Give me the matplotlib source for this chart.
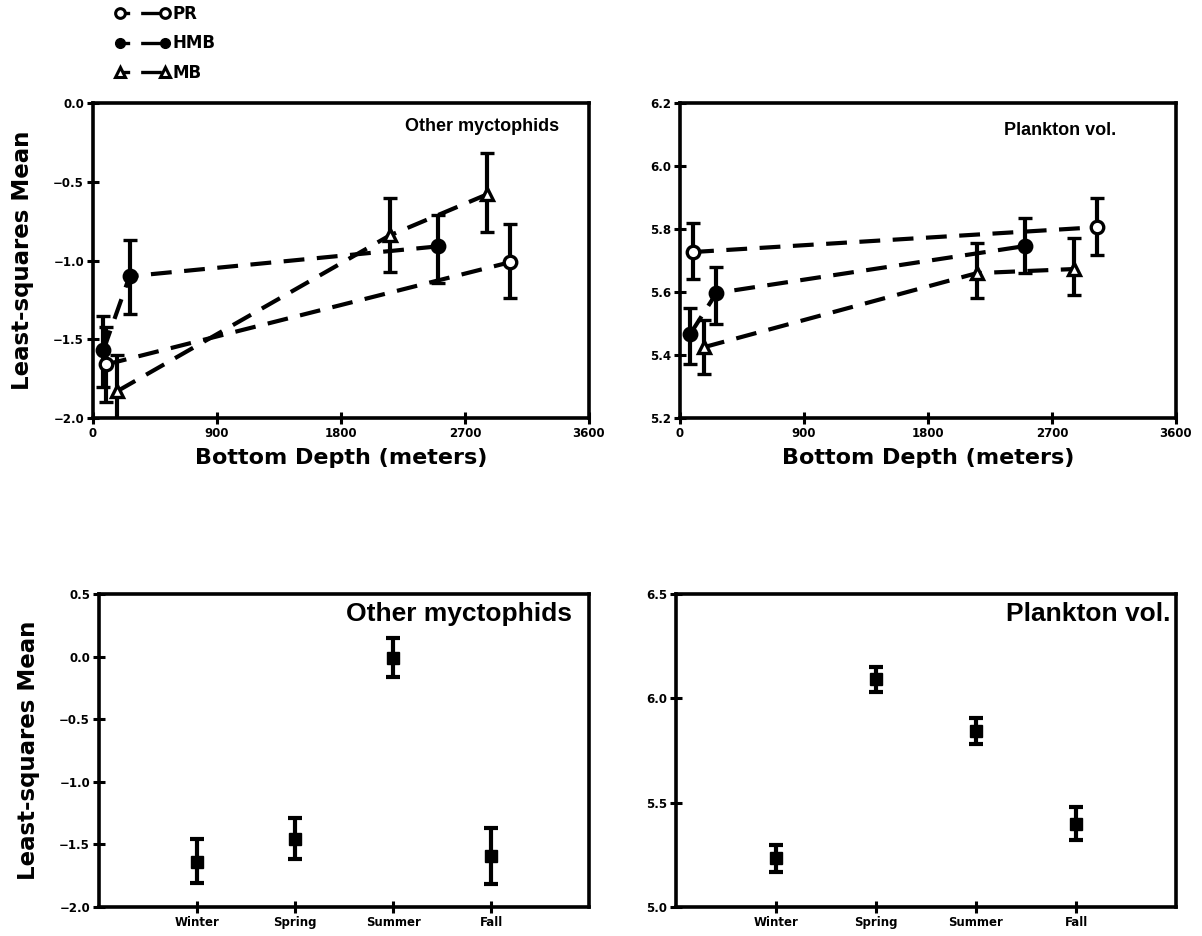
#!/usr/bin/env python3
"""plot.py: least-squares means by bottom depth and by season"""

import matplotlib

matplotlib.use("Agg")
import matplotlib.pyplot as plt
import numpy as np
from matplotlib.lines import Line2D

plt.rcParams["font.family"] = ["DejaVu Sans"]
plt.rcParams["font.weight"] = "bold"

NARROW = ["Liberation Sans Narrow", "Liberation Sans", "DejaVu Sans"]

# depth panels: station groups, bottom depth (m)
pr_depth = [95, 3030]
hmb_depth = [75, 265, 2505]
mb_depth = [175, 2155, 2860]

# Other myctophids: mean, lower, upper
myc_pr = [-1.66, -1.01]
myc_pr_lo = [-1.90, -1.24]
myc_pr_hi = [-1.42, -0.77]
myc_hmb = [-1.57, -1.10, -0.91]
myc_hmb_lo = [-1.80, -1.34, -1.14]
myc_hmb_hi = [-1.35, -0.87, -0.71]
myc_mb = [-1.83, -0.84, -0.58]
myc_mb_lo = [-2.08, -1.07, -0.82]
myc_mb_hi = [-1.60, -0.60, -0.32]

# Plankton vol.: mean, lower, upper
plk_pr = [5.727, 5.806]
plk_pr_lo = [5.64, 5.717]
plk_pr_hi = [5.82, 5.90]
plk_hmb = [5.467, 5.597, 5.746]
plk_hmb_lo = [5.37, 5.50, 5.66]
plk_hmb_hi = [5.55, 5.68, 5.835]
plk_mb = [5.425, 5.66, 5.673]
plk_mb_lo = [5.34, 5.58, 5.59]
plk_mb_hi = [5.51, 5.756, 5.77]

# season panels
seasons = ["Winter", "Spring", "Summer", "Fall"]
myc_season = [-1.64, -1.46, -0.01, -1.59]
myc_season_lo = [-1.81, -1.62, -0.16, -1.82]
myc_season_hi = [-1.46, -1.29, 0.15, -1.37]
plk_season = [5.235, 6.092, 5.843, 5.40]
plk_season_lo = [5.17, 6.03, 5.78, 5.32]
plk_season_hi = [5.297, 6.15, 5.906, 5.48]

depth_ticks = [0, 900, 1800, 2700, 3600]

LW = 2.6


def yerr(mean, lo, hi):
    """yerr: asymmetric error array"""
    m = np.asarray(mean)
    return np.vstack([m - np.asarray(lo), np.asarray(hi) - m])


def style_axes(ax):
    """style_axes: heavy frame, crossing ticks"""
    for s in ax.spines.values():
        s.set_linewidth(LW)
    ax.tick_params(direction="inout", length=9, width=2.2, labelsize=8.5, pad=2)
    for lab in ax.get_xticklabels() + ax.get_yticklabels():
        lab.set_fontweight("heavy")


def depth_panel(ax, series, title, ylim, yticks, tx, ty):
    """depth_panel: three station groups with dashed links"""
    for x, m, lo, hi, marker, face in series:
        ax.errorbar(
            x, m, yerr=yerr(m, lo, hi), fmt="--", color="black", lw=3.0,
            dashes=(5, 3), marker=marker, ms=9, mfc=face, mec="black", mew=2.4,
            ecolor="black", elinewidth=3.0, capsize=5, capthick=3.0, clip_on=True,
        )
    ax.set_xlim(0, 3600)
    ax.set_ylim(*ylim)
    ax.set_xticks(depth_ticks)
    ax.set_yticks(yticks)
    ax.set_xlabel("Bottom Depth (meters)", fontsize=16, fontweight="heavy", labelpad=6)
    ax.text(tx, ty, title, transform=ax.transAxes, ha="right", va="center",
            fontsize=13, fontweight="bold", family=NARROW)
    style_axes(ax)


def season_panel(ax, m, lo, hi, title, ylim, yticks, tx):
    """season_panel: square markers by season"""
    x = np.arange(1, len(seasons) + 1)
    ax.errorbar(
        x, m, yerr=yerr(m, lo, hi), fmt="s", color="black", ms=9,
        ecolor="black", elinewidth=3.0, capsize=5, capthick=3.0,
    )
    ax.set_xlim(0, 5)
    ax.set_ylim(*ylim)
    ax.set_xticks(x)
    ax.set_xticklabels(seasons)
    ax.set_yticks(yticks)
    ax.text(tx, 0.935, title, transform=ax.transAxes, ha="right", va="center",
            fontsize=19, fontweight="bold", family=NARROW)
    style_axes(ax)


fig = plt.figure(figsize=(12.02, 9.36), dpi=100)
ax1 = fig.add_axes([0.0774, 0.5534, 0.4126, 0.3365])
ax2 = fig.add_axes([0.5657, 0.5534, 0.4126, 0.3365])
ax3 = fig.add_axes([0.0824, 0.0310, 0.4077, 0.3344])
ax4 = fig.add_axes([0.5624, 0.0310, 0.4160, 0.3344])

depth_panel(
    ax1,
    [
        (pr_depth, myc_pr, myc_pr_lo, myc_pr_hi, "o", "white"),
        (hmb_depth, myc_hmb, myc_hmb_lo, myc_hmb_hi, "o", "black"),
        (mb_depth, myc_mb, myc_mb_lo, myc_mb_hi, "^", "white"),
    ],
    "Other myctophids", (-2.0, 0.0), [-2.0, -1.5, -1.0, -0.5, 0.0], 0.94, 0.924,
)
ax1.set_ylabel("Least-squares Mean", fontsize=16.5, fontweight="heavy", labelpad=14)

depth_panel(
    ax2,
    [
        (pr_depth, plk_pr, plk_pr_lo, plk_pr_hi, "o", "white"),
        (hmb_depth, plk_hmb, plk_hmb_lo, plk_hmb_hi, "o", "black"),
        (mb_depth, plk_mb, plk_mb_lo, plk_mb_hi, "^", "white"),
    ],
    "Plankton vol.", (5.2, 6.2), [5.2, 5.4, 5.6, 5.8, 6.0, 6.2], 0.88, 0.912,
)

season_panel(ax3, myc_season, myc_season_lo, myc_season_hi, "Other myctophids",
             (-2.0, 0.5), [-2.0, -1.5, -1.0, -0.5, 0.0, 0.5], 0.965)
ax3.set_ylabel("Least-squares Mean", fontsize=16.5, fontweight="heavy", labelpad=14)
season_panel(ax4, plk_season, plk_season_lo, plk_season_hi, "Plankton vol.",
             (5.0, 6.5), [5.0, 5.5, 6.0, 6.5], 0.988)

leg_ls = (0, (2.9, 3.3, 6.2, 8.0))
handles = [
    Line2D([], [], color="black", ls=leg_ls, lw=2.4, marker="o", mfc="white", mew=2.2, ms=7),
    Line2D([], [], color="black", ls=leg_ls, lw=2.4, marker="o", mfc="black", ms=7),
    Line2D([], [], color="black", ls=leg_ls, lw=2.4, marker="^", mfc="white", mew=2.2, ms=7),
]
fig.legend(handles, ["PR", "HMB", "MB"], loc="upper left", bbox_to_anchor=(0.083, 1.011),
           frameon=False, numpoints=2, handlelength=3.3, handletextpad=0.15,
           labelspacing=0.7, prop={"weight": "heavy", "size": 12})

fig.savefig("out.png", dpi=100)
